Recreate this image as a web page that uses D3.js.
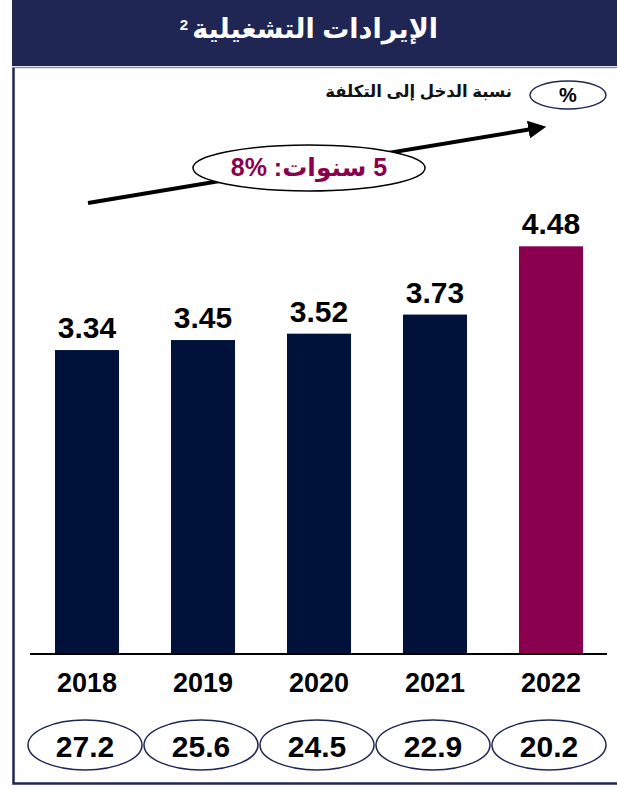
<!DOCTYPE html>
<html>
<head>
<meta charset="utf-8">
<script src="https://cdn.jsdelivr.net/npm/d3@7"></script>
<style>
  html, body { margin: 0; padding: 0; background: #fff; }
  svg { display: block; font-family: "Liberation Sans", Arial, "DejaVu Sans", sans-serif; }
</style>
</head>
<body>
<div id="chart"></div>
<script>
// chart values
const years = ['2018', '2019', '2020', '2021', '2022'];
const revenue = [3.34, 3.45, 3.52, 3.73, 4.48];
const costIncome = [27.2, 25.6, 24.5, 22.9, 20.2];
const titleText = 'الإيرادات التشغيلية';
const titleNote = '2';
const legendText = 'نسبة الدخل إلى التكلفة';
const cagrText = '5 سنوات: \u20668%\u2069';

const W = 617, H = 790;
const navy = '#1f2654';
const barNavy = '#00123a';
const maroon = '#8a004f';

const svg = d3.select('#chart').append('svg')
  .attr('width', W).attr('height', H)
  .attr('viewBox', `0 0 ${W} ${H}`);

// header band
svg.append('rect').attr('x', 12).attr('y', 0).attr('width', W - 12).attr('height', 66).attr('fill', navy);
svg.append('line').attr('x1', 12).attr('x2', W).attr('y1', 67.5).attr('y2', 67.5)
  .attr('stroke', '#8a8fae').attr('stroke-width', 1.5);

const title = svg.append('text')
  .attr('x', 438).attr('y', 38)
  .attr('text-anchor', 'end')
  .attr('fill', '#fff')
  .attr('font-weight', 'bold')
  .attr('font-size', 27)
  .text(titleText);
const tw = title.node().getComputedTextLength();
svg.append('text')
  .attr('x', 438 - tw - 4).attr('y', 30)
  .attr('text-anchor', 'end')
  .attr('fill', '#fff')
  .attr('font-weight', 'bold')
  .attr('font-size', 15)
  .text(titleNote);

// frame
svg.append('path')
  .attr('d', `M13.5,68 V783.5 H${W}`)
  .attr('fill', 'none').attr('stroke', navy).attr('stroke-width', 2.5);

// legend
svg.append('ellipse').attr('cx', 568).attr('cy', 95).attr('rx', 38).attr('ry', 14)
  .attr('fill', '#fff').attr('stroke', navy).attr('stroke-width', 1.5);
svg.append('text').attr('x', 568).attr('y', 102).attr('text-anchor', 'middle')
  .attr('font-weight', 'bold').attr('font-size', 20).text('%');
svg.append('text').attr('x', 512).attr('y', 97).attr('text-anchor', 'end')
  .attr('font-weight', 'bold').attr('font-size', 16.5).attr('fill', '#111')
  .text(legendText);

// scales
const x = d3.scaleBand().domain(years).range([29, 609]).paddingInner(0.448).paddingOuter(0.224);
const y = d3.scaleLinear().domain([0, 5]).range([654, 199]);
const cx = d => x(d.year) + x.bandwidth() / 2;

// growth arrow
svg.append('defs').append('marker')
  .attr('id', 'head').attr('viewBox', '0 0 10 10')
  .attr('refX', 2).attr('refY', 5)
  .attr('markerWidth', 4.5).attr('markerHeight', 4.5)
  .attr('orient', 'auto')
  .append('path').attr('d', 'M0,0 L10,5 L0,10 Z').attr('fill', '#000');

svg.append('line')
  .attr('x1', 88).attr('y1', 203).attr('x2', 532).attr('y2', 129)
  .attr('stroke', '#000').attr('stroke-width', 4)
  .attr('marker-end', 'url(#head)');

svg.append('ellipse').attr('cx', 309).attr('cy', 168).attr('rx', 116).attr('ry', 23)
  .attr('fill', '#fff').attr('stroke', '#000').attr('stroke-width', 1.5);
svg.append('text').attr('x', 309).attr('y', 176).attr('text-anchor', 'middle')
  .attr('direction', 'rtl')
  .attr('font-weight', 'bold').attr('font-size', 25).attr('fill', maroon)
  .text(cagrText);

// bars
const data = years.map((yr, i) => ({ year: yr, value: revenue[i], ratio: costIncome[i] }));

svg.selectAll('.bar')
  .data(data)
  .enter().append('rect')
  .attr('class', 'bar')
  .attr('x', d => x(d.year))
  .attr('y', d => y(d.value))
  .attr('width', x.bandwidth())
  .attr('height', d => y(0) - y(d.value))
  .attr('fill', (d, i) => i === data.length - 1 ? maroon : barNavy);

svg.selectAll('.val')
  .data(data)
  .enter().append('text')
  .attr('class', 'val')
  .attr('x', cx)
  .attr('y', d => y(d.value) - 12)
  .attr('text-anchor', 'middle')
  .attr('font-weight', 'bold').attr('font-size', 30)
  .text(d => d.value.toFixed(2));

// baseline
svg.append('line').attr('x1', 30).attr('x2', 607).attr('y1', y(0)).attr('y2', y(0))
  .attr('stroke', '#000').attr('stroke-width', 2);

// year labels
svg.selectAll('.year')
  .data(data)
  .enter().append('text')
  .attr('class', 'year')
  .attr('x', cx)
  .attr('y', 692)
  .attr('text-anchor', 'middle')
  .attr('font-weight', 'bold').attr('font-size', 27)
  .text(d => d.year);

// cost/income ellipses
const rat = svg.selectAll('.ratio')
  .data(data)
  .enter().append('g')
  .attr('class', 'ratio')
  .attr('transform', d => `translate(${cx(d) - 2},745)`);
rat.append('ellipse').attr('rx', 57).attr('ry', 25)
  .attr('fill', '#fff').attr('stroke', navy).attr('stroke-width', 1.5);
rat.append('text').attr('y', 12).attr('text-anchor', 'middle')
  .attr('font-weight', 'bold').attr('font-size', 30)
  .text(d => d.ratio.toFixed(1));
</script>
</body>
</html>
